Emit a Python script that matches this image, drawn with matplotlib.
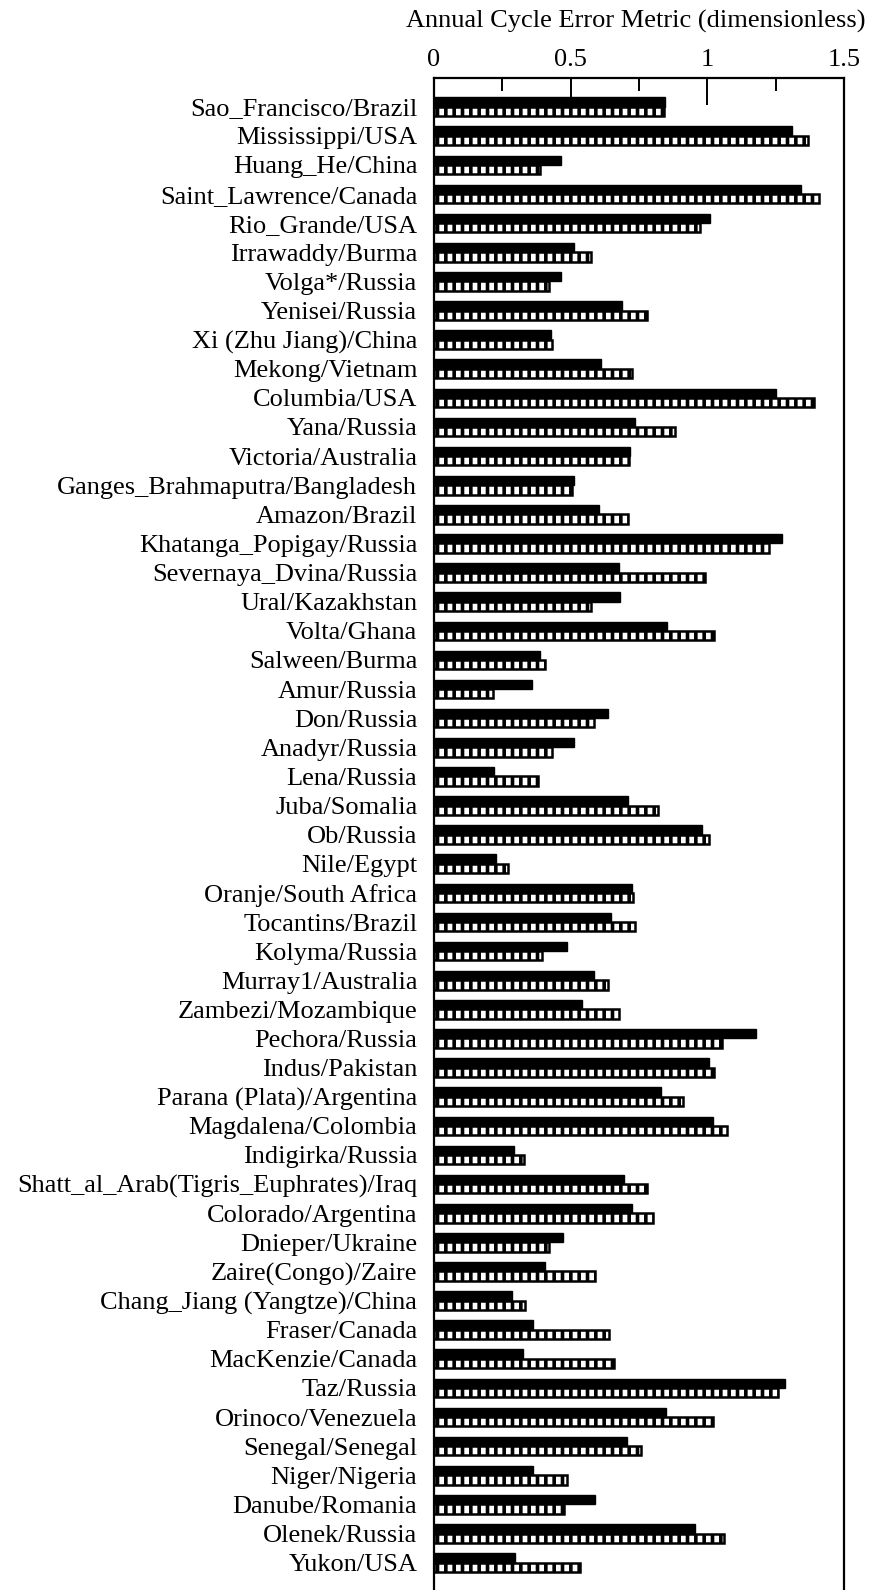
import matplotlib
matplotlib.use("Agg")
import matplotlib.pyplot as plt
import numpy as np

rivers = [
    "Sao_Francisco/Brazil", "Mississippi/USA", "Huang_He/China", "Saint_Lawrence/Canada",
    "Rio_Grande/USA", "Irrawaddy/Burma", "Volga*/Russia", "Yenisei/Russia",
    "Xi (Zhu Jiang)/China", "Mekong/Vietnam", "Columbia/USA", "Yana/Russia",
    "Victoria/Australia", "Ganges_Brahmaputra/Bangladesh", "Amazon/Brazil",
    "Khatanga_Popigay/Russia", "Severnaya_Dvina/Russia", "Ural/Kazakhstan", "Volta/Ghana",
    "Salween/Burma", "Amur/Russia", "Don/Russia", "Anadyr/Russia", "Lena/Russia",
    "Juba/Somalia", "Ob/Russia", "Nile/Egypt", "Oranje/South Africa", "Tocantins/Brazil",
    "Kolyma/Russia", "Murray1/Australia", "Zambezi/Mozambique", "Pechora/Russia",
    "Indus/Pakistan", "Parana (Plata)/Argentina", "Magdalena/Colombia", "Indigirka/Russia",
    "Shatt_al_Arab(Tigris_Euphrates)/Iraq", "Colorado/Argentina", "Dnieper/Ukraine",
    "Zaire(Congo)/Zaire", "Chang_Jiang (Yangtze)/China", "Fraser/Canada",
    "MacKenzie/Canada", "Taz/Russia", "Orinoco/Venezuela", "Senegal/Senegal",
    "Niger/Nigeria", "Danube/Romania", "Olenek/Russia", "Yukon/USA",
]

solid_values = [
    0.846, 1.311, 0.465, 1.341, 1.009, 0.514, 0.464, 0.688, 0.427, 0.611,
    1.252, 0.735, 0.716, 0.512, 0.605, 1.273, 0.676, 0.679, 0.853, 0.386,
    0.359, 0.636, 0.514, 0.219, 0.711, 0.982, 0.225, 0.723, 0.648, 0.485,
    0.587, 0.543, 1.177, 1.006, 0.832, 1.020, 0.293, 0.696, 0.724, 0.471,
    0.406, 0.285, 0.361, 0.327, 1.285, 0.850, 0.705, 0.361, 0.589, 0.955,
    0.297,
]

hatched_values = [
    0.841, 1.369, 0.387, 1.408, 0.974, 0.575, 0.419, 0.780, 0.432, 0.726,
    1.389, 0.882, 0.712, 0.505, 0.710, 1.227, 0.991, 0.576, 1.023, 0.406,
    0.215, 0.587, 0.431, 0.379, 0.821, 1.006, 0.269, 0.729, 0.737, 0.394,
    0.635, 0.676, 1.055, 1.025, 0.911, 1.071, 0.330, 0.781, 0.803, 0.420,
    0.589, 0.334, 0.642, 0.657, 1.257, 1.021, 0.759, 0.487, 0.474, 1.060,
    0.533,
]

major_ticks = [0, 0.5, 1, 1.5]
major_labels = ["0", "0.5", "1", "1.5"]
minor_ticks = [0.25, 0.75, 1.25]
axis_title = "Annual Cycle Error Metric (dimensionless)"

plt.rcParams["font.family"] = ["Liberation Serif", "DejaVu Serif"]
plt.rcParams["hatch.linewidth"] = 2.6

fig = plt.figure(figsize=(8.74, 15.90), dpi=100)
ax = fig.add_axes([434 / 874, 0.0, (844 - 434) / 874, 1 - 78 / 1590])

y = np.arange(len(rivers))
h = 0.32
ax.barh(y - h / 2, solid_values, height=h, color="black", edgecolor="black",
        linewidth=1.0)
ax.barh(y + h / 2, hatched_values, height=h, color="white", edgecolor="black",
        linewidth=1.8, hatch="||")

ax.set_xlim(0, 1.5)
ax.set_ylim(len(rivers) - 1 + 0.94, -0.985)

ax.set_axisbelow(True)
ax.xaxis.tick_top()
ax.set_xticks(major_ticks)
ax.set_xticklabels(major_labels, fontsize=19)
ax.set_xticks(minor_ticks, minor=True)
ax.tick_params(axis="x", which="major", direction="in", length=19.5, width=1.4,
               pad=5, top=True, bottom=False)
ax.tick_params(axis="x", which="minor", direction="in", length=9, width=1.4,
               top=True, bottom=False)

fig.text(636 / 874, 1 - 28 / 1590, axis_title, fontsize=19,
         ha="center", va="baseline")

ax.set_yticks(y)
ax.set_yticklabels(rivers, fontsize=19)
ax.tick_params(axis="y", length=0, pad=12)

for side in ["left", "right", "top"]:
    ax.spines[side].set_linewidth(1.6)
ax.spines["bottom"].set_visible(False)

fig.savefig("out.png", dpi=100)
